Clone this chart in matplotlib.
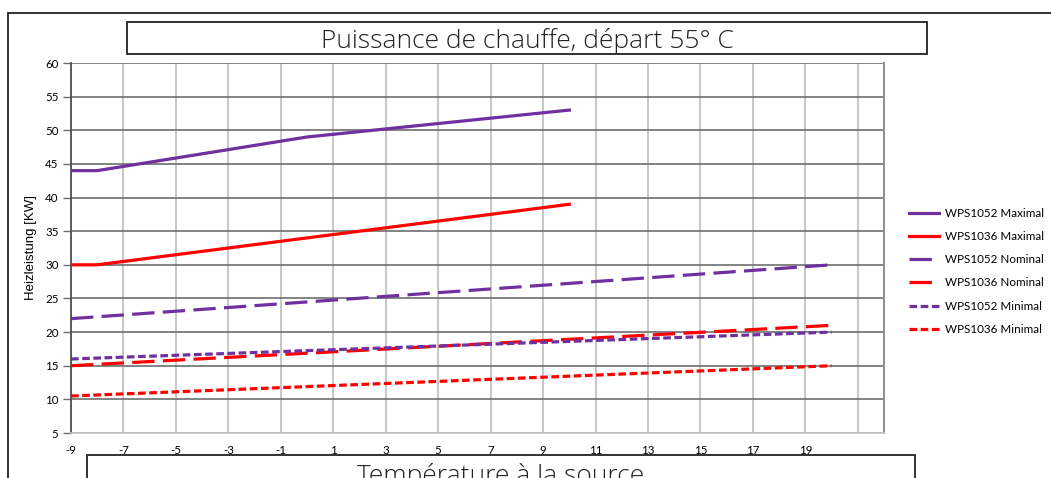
import matplotlib
matplotlib.use("Agg")
import matplotlib.pyplot as plt
from matplotlib.patches import Rectangle

PURPLE = "#7030A0"
RED = "#FF0000"

# source temperature (deg C) / heating power (kW)
x_max_1052 = [-9, -8, 0, 10]
y_max_1052 = [44, 44, 49, 53]
x_max_1036 = [-9, -8, 10]
y_max_1036 = [30, 30, 39]
x_nom = [-9, 20]
y_nom_1052 = [22, 30]
y_nom_1036 = [15, 21]
x_min = [-9, 20]
y_min_1052 = [16, 20]
y_min_1036 = [10.5, 15]

x_ticks = list(range(-9, 20, 2))
x_grid = list(range(-9, 22, 2))
y_ticks = list(range(5, 61, 5))

W, H = 1051, 478
fig = plt.figure(figsize=(W / 100, H / 100), dpi=100)

def px(x0, y0, x1, y1):
    # pixel box -> figure fraction [left, bottom, width, height]
    return [x0 / W, 1 - y1 / H, (x1 - x0) / W, (y1 - y0) / H]

ax = fig.add_axes(px(71, 63, 884, 433))

lw = 2.3
long_dash = (7.0, 2.6)
short_dash = (2.4, 1.1)
ax.plot(x_max_1052, y_max_1052, color=PURPLE, lw=lw, label="WPS1052 Maximal")
ax.plot(x_max_1036, y_max_1036, color=RED, lw=lw, label="WPS1036 Maximal")
ax.plot(x_nom, y_nom_1052, color=PURPLE, lw=lw, dashes=long_dash, label="WPS1052 Nominal")
ax.plot(x_nom, y_nom_1036, color=RED, lw=lw, dashes=long_dash, label="WPS1036 Nominal")
ax.plot(x_min, y_min_1052, color=PURPLE, lw=lw, dashes=short_dash, label="WPS1052 Minimal")
ax.plot(x_min, y_min_1036, color=RED, lw=lw, dashes=short_dash, label="WPS1036 Minimal")

ax.set_xlim(-9, 22)
ax.set_ylim(5, 60)
ax.set_yticks(y_ticks)
ax.set_xticks(x_grid)
ax.set_xticklabels([str(v) if v in x_ticks else "" for v in x_grid])
for v in x_grid:
    ax.axvline(v, color="#bdbdbd", lw=1.2, zorder=0)
for v in y_ticks:
    ax.axhline(v, color="#6e6e6e", lw=1.2, zorder=0)

ax.tick_params(axis="y", length=6, width=1, color="#6e6e6e", labelsize=8.3, pad=3)
ax.tick_params(axis="x", length=0, labelsize=8.3, pad=9)
for lab in ax.get_xticklabels() + ax.get_yticklabels():
    lab.set_fontfamily("Lato")
ax.spines["top"].set_visible(False)
ax.spines["left"].set_color("#505050")
ax.spines["left"].set_linewidth(1.3)
ax.spines["right"].set_color("#909090")
ax.spines["right"].set_linewidth(1.5)
ax.spines["bottom"].set_color("#c8c8c8")
ax.spines["bottom"].set_linewidth(1.2)

ax.set_ylabel("Heizleistung [KW]", fontsize=9.5, fontfamily="Liberation Sans", labelpad=6)

fig.legend(loc="upper left", bbox_to_anchor=(904 / W, 1 - 203 / H), frameon=False,
           prop={"family": "Lato", "size": 8.4}, handlelength=2.6, handletextpad=0.5,
           labelspacing=1.05, borderaxespad=0)

# outer frame, title box, bottom label box
fig.patches.append(Rectangle((8 / W, -0.05), 1.1, 1.05 - 13 / H,
                             transform=fig.transFigure, fill=False, ec="#222222", lw=1.3))
fig.patches.append(Rectangle(px(127, 22, 927, 54)[:2], 800 / W, 32 / H,
                             transform=fig.transFigure, fill=False, ec="#222222", lw=1.3))
fig.patches.append(Rectangle((87 / W, -0.05), (915 - 87) / W, 0.05 + 1 - 455 / H,
                             transform=fig.transFigure, fill=False, ec="#222222", lw=1.3))

fig.text(527 / W, 1 - 48 / H, "Puissance de chauffe, départ 55° C", ha="center", va="baseline",
         fontsize=19, fontfamily="Open Sans", fontweight="light", color="#222222")
# the axis title sits partly below the image edge, as in the original
fig.text(501 / W, 1 - 483 / H, "Température à la source", ha="center", va="baseline",
         fontsize=19, fontfamily="Open Sans", fontweight="light", color="#222222")

fig.savefig("out.png", dpi=100)
